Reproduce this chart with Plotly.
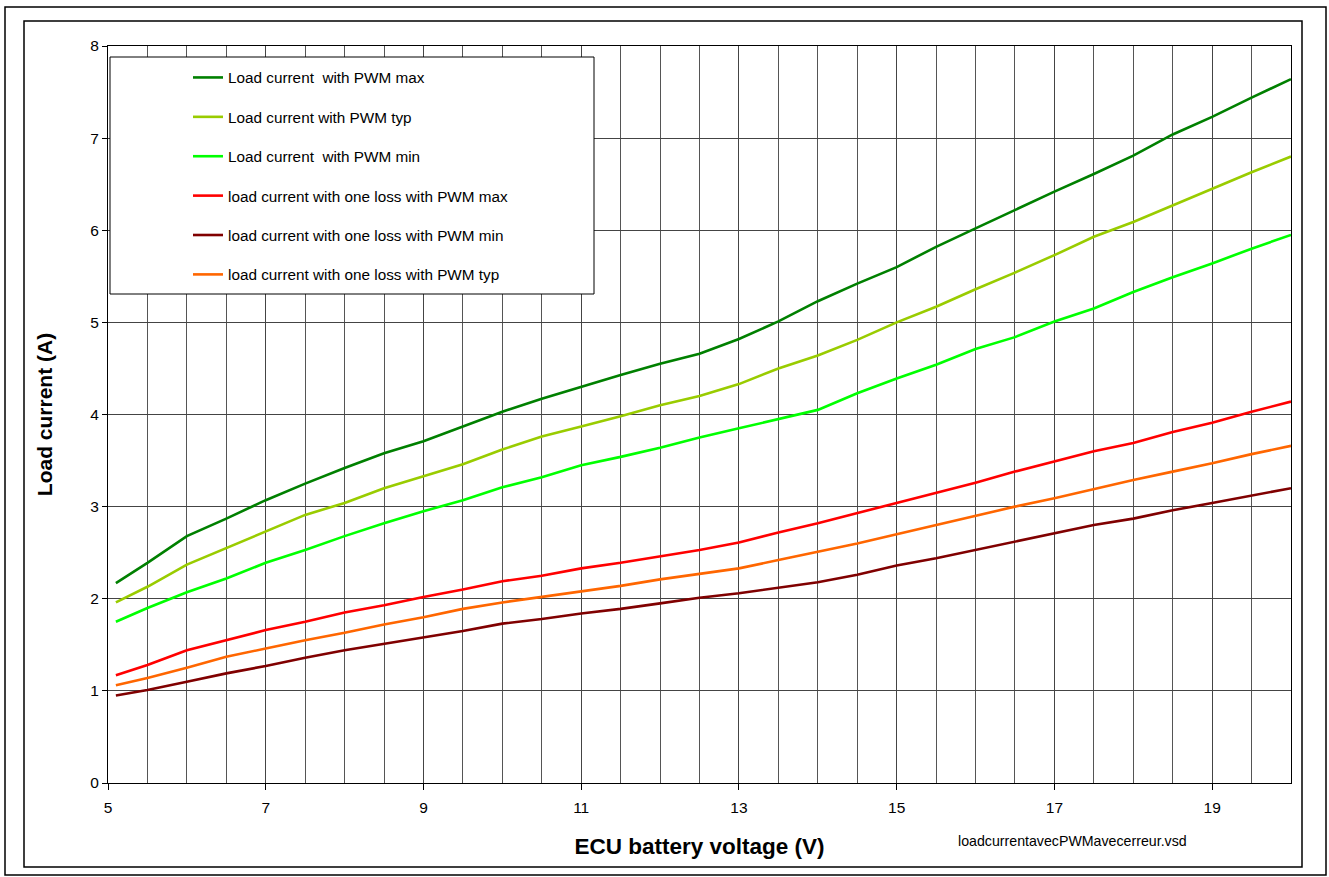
import plotly.graph_objects as go

# ---- data ----
voltage = [5.1, 5.5, 6.0, 6.5, 7.0, 7.5, 8.0, 8.5, 9.0, 9.5, 10.0, 10.5, 11.0, 11.5, 12.0,
           12.5, 13.0, 13.5, 14.0, 14.5, 15.0, 15.5, 16.0, 16.5, 17.0, 17.5, 18.0, 18.5,
           19.0, 19.5, 20.0]

pwm_max = [2.17, 2.39, 2.68, 2.87, 3.07, 3.25, 3.42, 3.58, 3.71, 3.87, 4.03, 4.17, 4.30, 4.43,
           4.55, 4.66, 4.82, 5.01, 5.23, 5.42, 5.60, 5.82, 6.02, 6.22, 6.42, 6.61, 6.81, 7.04,
           7.23, 7.44, 7.64]
pwm_typ = [1.96, 2.13, 2.37, 2.55, 2.73, 2.91, 3.04, 3.20, 3.33, 3.46, 3.62, 3.76, 3.87, 3.98,
           4.10, 4.20, 4.33, 4.50, 4.64, 4.81, 5.00, 5.17, 5.36, 5.54, 5.73, 5.93, 6.09, 6.27,
           6.45, 6.63, 6.80]
pwm_min = [1.75, 1.90, 2.07, 2.22, 2.39, 2.53, 2.68, 2.82, 2.95, 3.07, 3.21, 3.32, 3.45, 3.54,
           3.64, 3.75, 3.85, 3.95, 4.05, 4.23, 4.39, 4.54, 4.71, 4.84, 5.01, 5.15, 5.33, 5.49,
           5.64, 5.80, 5.95]
loss_max = [1.17, 1.28, 1.44, 1.55, 1.66, 1.75, 1.85, 1.93, 2.02, 2.10, 2.19, 2.25, 2.33, 2.39,
            2.46, 2.53, 2.61, 2.72, 2.82, 2.93, 3.04, 3.15, 3.26, 3.38, 3.49, 3.60, 3.69, 3.81,
            3.91, 4.03, 4.14]
loss_min = [0.95, 1.01, 1.10, 1.19, 1.27, 1.36, 1.44, 1.51, 1.58, 1.65, 1.73, 1.78, 1.84, 1.89,
            1.95, 2.01, 2.06, 2.12, 2.18, 2.26, 2.36, 2.44, 2.53, 2.62, 2.71, 2.80, 2.87, 2.96,
            3.04, 3.12, 3.20]
loss_typ = [1.06, 1.14, 1.25, 1.37, 1.46, 1.55, 1.63, 1.72, 1.80, 1.89, 1.96, 2.02, 2.08, 2.14,
            2.21, 2.27, 2.33, 2.42, 2.51, 2.60, 2.70, 2.80, 2.90, 3.00, 3.09, 3.19, 3.29, 3.38,
            3.47, 3.57, 3.66]

series_names = [
    "Load current  with PWM max",
    "Load current with PWM typ",
    "Load current  with PWM min",
    "load current with one loss with PWM max",
    "load current with one loss with PWM min",
    "load current with one loss with PWM typ",
]
series_values = [pwm_max, pwm_typ, pwm_min, loss_max, loss_min, loss_typ]
series_colors = ["#008000", "#99CC00", "#00FF00", "#FF0000", "#800000", "#FF6600"]

x_ticks = [5, 7, 9, 11, 13, 15, 17, 19]
y_ticks = [0, 1, 2, 3, 4, 5, 6, 7, 8]

FONT = "Arial, 'Liberation Sans', sans-serif"

# ---- layout geometry (pixels) ----
W, H = 1329, 877
L, R, T, B = 108, 38, 46, 94
PW, PH = W - L - R, H - T - B


def px(xp):
    return (xp - L) / PW


def py(yp):
    return (H - B - yp) / PH


fig = go.Figure()
for i, (name, vals, col) in enumerate(zip(series_names, series_values, series_colors)):
    fig.add_trace(go.Scatter(
        x=voltage, y=vals, mode="lines", name=name,
        line=dict(color=col, width=2.6),
        legendgroup=f"g{i}",
    ))

shapes = [
    # outer frame
    dict(type="rect", xref="paper", yref="paper", x0=px(5), x1=px(1326), y0=py(875), y1=py(7),
         line=dict(color="black", width=1.5), fillcolor="rgba(0,0,0,0)", layer="below"),
    # inner frame
    dict(type="rect", xref="paper", yref="paper", x0=px(24), x1=px(1302), y0=py(867), y1=py(21),
         line=dict(color="black", width=1.5), fillcolor="rgba(0,0,0,0)", layer="below"),
    # legend box
    dict(type="rect", xref="paper", yref="paper", x0=px(110), x1=px(594), y0=py(294), y1=py(57),
         line=dict(color="black", width=1), fillcolor="white", layer="above"),
]

fig.update_layout(
    width=W, height=H,
    margin=dict(l=L, r=R, t=T, b=B),
    paper_bgcolor="white", plot_bgcolor="white",
    font=dict(family=FONT, color="black", size=15),
    showlegend=True,
    legend=dict(
        x=px(188), y=py(61), xanchor="left", yanchor="top",
        bgcolor="rgba(0,0,0,0)", borderwidth=0,
        font=dict(family=FONT, size=15.3, color="black"),
        tracegroupgap=16.5, itemwidth=30,
    ),
    shapes=shapes,
    xaxis=dict(
        range=[5, 20], tickvals=x_ticks, ticktext=[str(v) for v in x_ticks],
        showgrid=True, gridcolor="#444", gridwidth=1,
        minor=dict(dtick=0.5, tick0=5, showgrid=True, gridcolor="#555", gridwidth=1),
        showline=True, linecolor="black", linewidth=1, mirror=True,
        ticks="outside", ticklen=6, tickcolor="black", ticklabelstandoff=4,
        tickfont=dict(family=FONT, size=15.5),
        title=dict(text="<b>ECU battery voltage (V)</b>", font=dict(family=FONT, size=22.5), standoff=23),
        zeroline=False,
    ),
    yaxis=dict(
        range=[0, 8], tickvals=y_ticks,
        showgrid=True, gridcolor="#444", gridwidth=1,
        showline=True, linecolor="black", linewidth=1, mirror=True,
        ticks="outside", ticklen=5, tickcolor="black",
        tickfont=dict(family=FONT, size=15.5),
        title=dict(text="<b>Load current (A)</b>", font=dict(family=FONT, size=21), standoff=31),
        zeroline=False,
    ),
    annotations=[
        dict(text="loadcurrentavecPWMavecerreur.vsd", xref="paper", yref="paper",
             x=px(956), y=py(841), xanchor="left", yanchor="middle", showarrow=False,
             font=dict(family=FONT, size=14.2, color="black")),
    ],
)

fig.write_html("out.html")
